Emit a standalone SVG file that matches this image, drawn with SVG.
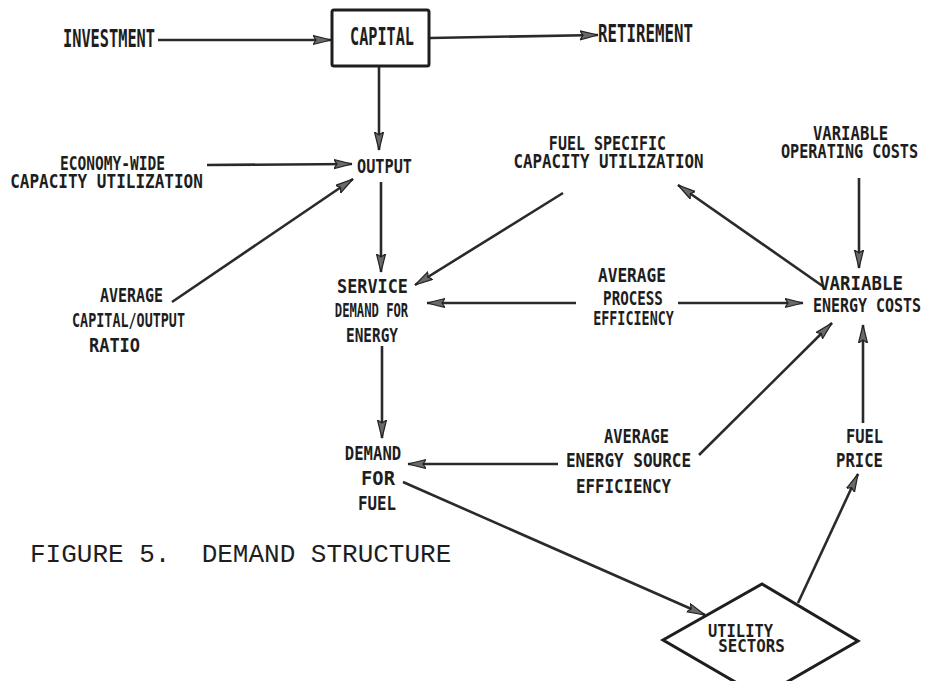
<svg xmlns="http://www.w3.org/2000/svg" width="933" height="681" viewBox="0 0 933 681">
  <style>
    .lbl { font-family: "DejaVu Sans Mono", "Liberation Mono", monospace; font-weight: bold; font-size: 20px; fill: #1e1e1e; text-anchor: middle; }
    .big { font-size: 24px; }
    .sm { font-size: 18px; }
    .cap { font-family: "Liberation Mono", "Courier New", monospace; font-size: 26px; fill: #1e1e1e; white-space: pre; }
    .edge { stroke: #2a2a2a; stroke-width: 2.6; fill: none; marker-end: url(#head); }
    .shape { stroke: #1e1e1e; stroke-width: 3; fill: #fff; }
  </style>
  <defs>
    <marker id="head" markerUnits="userSpaceOnUse" markerWidth="20" markerHeight="12" refX="18" refY="5" orient="auto">
      <path d="M0,0.5 L18,5 L0,9.5 L3,5 Z" fill="#6a6a6a" stroke="#222" stroke-width="1.2"/>
    </marker>
  </defs>
  <rect width="933" height="681" fill="#fff"/>

  <!-- connectors -->
  <g id="connectors">
    <line class="edge" x1="158" y1="40" x2="331" y2="40"/>
    <line class="edge" x1="430" y1="38" x2="598" y2="35"/>
    <line class="edge" x1="379" y1="66" x2="379" y2="150"/>
    <line class="edge" x1="207" y1="165" x2="352" y2="164"/>
    <line class="edge" x1="172" y1="302" x2="353" y2="179"/>
    <line class="edge" x1="381" y1="182" x2="381" y2="272"/>
    <line class="edge" x1="563" y1="193" x2="415" y2="285"/>
    <line class="edge" x1="576" y1="303" x2="427" y2="303"/>
    <line class="edge" x1="678" y1="303" x2="803" y2="303"/>
    <line class="edge" x1="859" y1="178" x2="859" y2="268"/>
    <line class="edge" x1="824" y1="287" x2="678" y2="185"/>
    <line class="edge" x1="699" y1="455" x2="832" y2="323"/>
    <line class="edge" x1="863" y1="423" x2="863" y2="325"/>
    <line class="edge" x1="382" y1="346" x2="382" y2="438"/>
    <line class="edge" x1="558" y1="464" x2="408" y2="464"/>
    <line class="edge" x1="403" y1="482" x2="705" y2="615"/>
    <line class="edge" x1="798" y1="603" x2="858" y2="474"/>
  </g>

  <g id="investment"><text class="lbl big" transform="translate(109,47) scale(0.637,1)">INVESTMENT</text></g>
  <g id="capital">
    <rect class="shape" x="332" y="10" width="97" height="56" rx="2"/>
    <text class="lbl big" transform="translate(382,45) scale(0.633,1)">CAPITAL</text>
  </g>
  <g id="retirement"><text class="lbl big" transform="translate(645.5,42) scale(0.657,1)">RETIREMENT</text></g>

  <g id="economy-capacity">
    <text class="lbl" transform="translate(112.5,170) scale(0.727,1)">ECONOMY-WIDE</text>
    <text class="lbl" transform="translate(106.5,188) scale(0.80,1)">CAPACITY UTILIZATION</text>
  </g>
  <g id="output"><text class="lbl" transform="translate(384.5,173) scale(0.76,1)">OUTPUT</text></g>
  <g id="capital-output-ratio">
    <text class="lbl" transform="translate(131.5,302) scale(0.75,1)">AVERAGE</text>
    <text class="lbl" transform="translate(128.5,327) scale(0.67,1)">CAPITAL/OUTPUT</text>
    <text class="lbl" transform="translate(114.5,352) scale(0.85,1)">RATIO</text>
  </g>
  <g id="service-demand">
    <text class="lbl" transform="translate(372.5,293) scale(0.84,1)">SERVICE</text>
    <text class="lbl" transform="translate(371.5,317) scale(0.61,1)">DEMAND FOR</text>
    <text class="lbl" transform="translate(372,342) scale(0.72,1)">ENERGY</text>
  </g>
  <g id="fuel-capacity">
    <text class="lbl" transform="translate(607.5,150) scale(0.75,1)">FUEL SPECIFIC</text>
    <text class="lbl" transform="translate(608.5,168) scale(0.79,1)">CAPACITY UTILIZATION</text>
  </g>
  <g id="operating-costs">
    <text class="lbl" transform="translate(850.5,140) scale(0.78,1)">VARIABLE</text>
    <text class="lbl" transform="translate(849.5,158) scale(0.76,1)">OPERATING COSTS</text>
  </g>
  <g id="process-efficiency">
    <text class="lbl" transform="translate(632,282) scale(0.81,1)">AVERAGE</text>
    <text class="lbl" transform="translate(633,305) scale(0.71,1)">PROCESS</text>
    <text class="lbl" transform="translate(633.5,325) scale(0.67,1)">EFFICIENCY</text>
  </g>
  <g id="energy-costs">
    <text class="lbl" transform="translate(861,290) scale(0.87,1)">VARIABLE</text>
    <text class="lbl" transform="translate(867,312) scale(0.75,1)">ENERGY COSTS</text>
  </g>
  <g id="fuel-demand">
    <text class="lbl" transform="translate(373,460) scale(0.78,1)">DEMAND</text>
    <text class="lbl" transform="translate(378,485) scale(0.94,1)">FOR</text>
    <text class="lbl" transform="translate(377,510) scale(0.79,1)">FUEL</text>
  </g>
  <g id="source-efficiency">
    <text class="lbl" transform="translate(636.5,443) scale(0.77,1)">AVERAGE</text>
    <text class="lbl" transform="translate(628.5,467) scale(0.80,1)">ENERGY SOURCE</text>
    <text class="lbl" transform="translate(623.5,493) scale(0.79,1)">EFFICIENCY</text>
  </g>
  <g id="fuel-price">
    <text class="lbl" transform="translate(864.5,443) scale(0.77,1)">FUEL</text>
    <text class="lbl" transform="translate(859.5,467) scale(0.78,1)">PRICE</text>
  </g>
  <g id="utility-sectors">
    <polygon class="shape" points="663,640 762,584 858,641 761,697" fill="none"/>
    <text class="lbl sm" transform="translate(740.5,637) scale(0.857,1)">UTILITY</text>
    <text class="lbl sm" transform="translate(751.5,652) scale(0.88,1)">SECTORS</text>
  </g>

  <g id="caption"><text class="cap" x="30" y="562" xml:space="preserve">FIGURE 5.  DEMAND STRUCTURE</text></g>
</svg>
